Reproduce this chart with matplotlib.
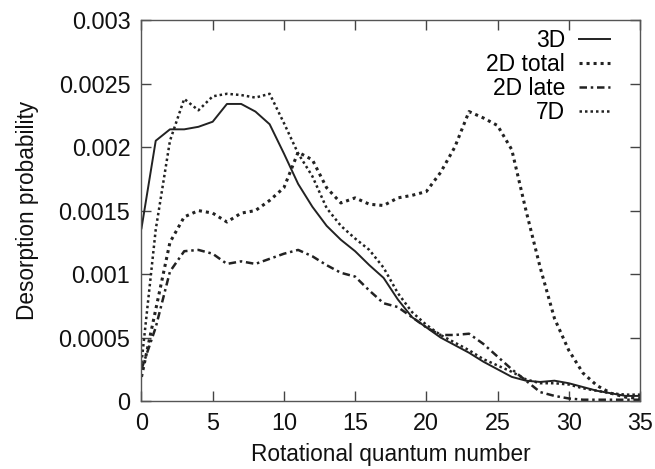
import matplotlib.pyplot as plt
import numpy as np

plt.rcParams['font.family'] = ['Liberation Sans', 'DejaVu Sans']

J = np.arange(0, 36)

p_3d = [0.00136, 0.00205, 0.00214, 0.00214, 0.00216, 0.00220, 0.00234, 0.00234,
        0.00228, 0.00218, 0.00195, 0.00171, 0.00153, 0.00138, 0.00127, 0.00118,
        0.00107, 0.00097, 0.00080, 0.00066, 0.00058, 0.00050, 0.00044, 0.00038,
        0.00031, 0.00025, 0.00019, 0.00016, 0.00015, 0.00016, 0.00014, 0.00011,
        0.00008, 0.00006, 0.00004, 0.00004]

p_2d_total = [0.00019, 0.00072, 0.00125, 0.00145, 0.00150, 0.00148, 0.00141, 0.00148,
              0.00150, 0.00158, 0.00168, 0.00196, 0.00190, 0.00168, 0.00156, 0.00160,
              0.00155, 0.00154, 0.00160, 0.00162, 0.00165, 0.00180, 0.00200, 0.00228,
              0.00223, 0.00217, 0.00198, 0.00150, 0.00105, 0.00065, 0.00040, 0.00022,
              0.00012, 0.00006, 0.00003, 0.00002]

p_2d_late = [0.00025, 0.00058, 0.00102, 0.00118, 0.00119, 0.00116, 0.00108, 0.00110,
             0.00108, 0.00112, 0.00116, 0.00119, 0.00114, 0.00107, 0.00101, 0.00098,
             0.00087, 0.00077, 0.00074, 0.00066, 0.00058, 0.00052, 0.00052, 0.00053,
             0.00045, 0.00035, 0.00025, 0.00016, 0.00007, 0.00004, 0.00002, 0.00001,
             0.00001, 0.00001, 0.00001, 0.00001]

p_7d = [0.00030, 0.00135, 0.00205, 0.00238, 0.00229, 0.00240, 0.00242, 0.00241,
        0.00239, 0.00242, 0.00219, 0.00195, 0.00177, 0.00152, 0.00138, 0.00128,
        0.00119, 0.00105, 0.00085, 0.00070, 0.00060, 0.00052, 0.00046, 0.00040,
        0.00033, 0.00028, 0.00023, 0.00017, 0.00014, 0.00014, 0.00013, 0.00010,
        0.00008, 0.00006, 0.00005, 0.00005]

xticks = [0, 5, 10, 15, 20, 25, 30, 35]
yticks = [0, 0.0005, 0.001, 0.0015, 0.002, 0.0025, 0.003]
ytick_labels = ['0', '0.0005', '0.001', '0.0015', '0.002', '0.0025', '0.003']

fig = plt.figure(figsize=(6.55, 4.69), dpi=100)
ax = fig.add_axes([0.216, 0.145, 0.761, 0.812])

lc = '#222222'
ax.plot(J, p_3d, color=lc, lw=1.4, ls='-', label='3D')
ax.plot(J, p_2d_total, color=lc, lw=2.2, ls=(0, (1, 1.3)), label='2D total')
ax.plot(J, p_2d_late, color=lc, lw=1.8, ls=(0, (3, 1.5, 1, 1.5)), label='2D late')
ax.plot(J, p_7d, color=lc, lw=1.8, ls=(0, (1, 1.2)), label='7D')

ax.set_xlim(0, 35)
ax.set_ylim(0, 0.003)
ax.set_xticks(xticks)
ax.set_yticks(yticks)
ax.set_yticklabels(ytick_labels)
ax.tick_params(direction='in', length=7, width=1, colors='#444444',
               labelcolor='#111111', labelsize=16.8, top=True, right=True, pad=8)
for s in ax.spines.values():
    s.set_color('#555555')
    s.set_linewidth(1)

ax.set_xlabel('Rotational quantum number', fontsize=16.3, color='#111111', labelpad=6)
ax.set_ylabel('Desorption probability', fontsize=16.3, color='#111111', labelpad=14)

ax.legend(loc='upper right', bbox_to_anchor=(0.972, 1.02), frameon=False,
          markerfirst=False, fontsize=16.5, handlelength=1.35, handletextpad=0.6,
          labelspacing=0.05, borderaxespad=0.3)

fig.savefig('out.png', dpi=100)
